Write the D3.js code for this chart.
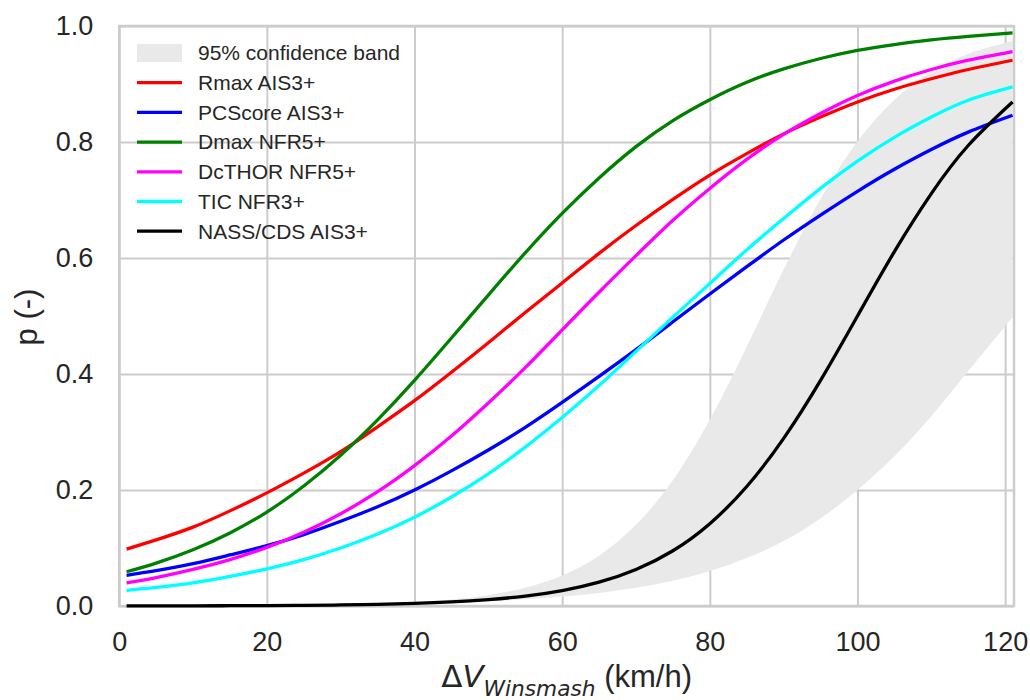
<!DOCTYPE html>
<html>
<head>
<meta charset="utf-8">
<script src="https://cdn.jsdelivr.net/npm/d3@7"></script>
<style>
  body { margin: 0; background: #fff; }
  text { font-family: "Liberation Sans", Arial, sans-serif; fill: #262626; }
</style>
</head>
<body>
<svg width="1030" height="700"></svg>
<script>
var svg = d3.select('svg');

var speeds = [1, 5, 10, 15, 20, 25, 30, 35, 40, 45, 50, 55, 60, 65, 70, 75, 80, 85, 90, 95, 100, 105, 110, 115, 121];

var rmax    = [0.098, 0.114, 0.136, 0.164, 0.195, 0.229, 0.266, 0.309, 0.354, 0.403, 0.454, 0.506, 0.557, 0.608, 0.656, 0.701, 0.743, 0.780, 0.814, 0.843, 0.869, 0.891, 0.909, 0.925, 0.941];
var pcscore = [0.053, 0.061, 0.073, 0.088, 0.104, 0.123, 0.146, 0.171, 0.200, 0.233, 0.269, 0.308, 0.351, 0.396, 0.442, 0.490, 0.538, 0.585, 0.631, 0.674, 0.715, 0.753, 0.787, 0.817, 0.846];
var dmax    = [0.059, 0.074, 0.097, 0.126, 0.162, 0.207, 0.260, 0.321, 0.389, 0.462, 0.536, 0.609, 0.677, 0.738, 0.792, 0.837, 0.873, 0.903, 0.926, 0.944, 0.958, 0.968, 0.976, 0.982, 0.988];
var dcthor  = [0.040, 0.049, 0.063, 0.080, 0.101, 0.127, 0.159, 0.197, 0.242, 0.293, 0.350, 0.411, 0.476, 0.541, 0.604, 0.665, 0.720, 0.770, 0.813, 0.849, 0.880, 0.905, 0.925, 0.941, 0.956];
var tic     = [0.027, 0.032, 0.040, 0.051, 0.064, 0.080, 0.100, 0.124, 0.153, 0.188, 0.228, 0.274, 0.325, 0.380, 0.439, 0.498, 0.556, 0.614, 0.668, 0.720, 0.767, 0.808, 0.843, 0.872, 0.895];
var nass    = [0.0001, 0.0002, 0.0003, 0.0005, 0.0007, 0.0012, 0.0018, 0.0029, 0.0045, 0.0070, 0.0110, 0.0171, 0.0266, 0.0411, 0.0630, 0.0953, 0.142, 0.206, 0.289, 0.389, 0.500, 0.611, 0.711, 0.794, 0.869];

// 95% confidence band of the NASS/CDS curve
var bandLower = [0.0001, 0.0002, 0.0003, 0.0005, 0.0007, 0.0010, 0.0015, 0.0025, 0.0042, 0.0059, 0.0083, 0.0116, 0.0162, 0.0226, 0.0315, 0.0437, 0.0603, 0.0827, 0.112, 0.151, 0.200, 0.258, 0.327, 0.405, 0.498];
var bandUpper = [0.0001, 0.0002, 0.0003, 0.0005, 0.0008, 0.0013, 0.0022, 0.0038, 0.0065, 0.0110, 0.0187, 0.0316, 0.0527, 0.0868, 0.140, 0.217, 0.321, 0.447, 0.580, 0.702, 0.801, 0.873, 0.921, 0.952, 0.974];

var seriesNames  = ['Rmax AIS3+', 'PCScore AIS3+', 'Dmax NFR5+', 'DcTHOR NFR5+', 'TIC NFR3+', 'NASS/CDS AIS3+'];
var seriesValues = [rmax, pcscore, dmax, dcthor, tic, nass];
var seriesColors = ['#ff0000', '#0000ff', '#008000', '#ff00ff', '#00ffff', '#000000'];

var xTicks = [0, 20, 40, 60, 80, 100, 120];
var yTicks = [0, 0.2, 0.4, 0.6, 0.8, 1.0];

var plotLeft = 119.2, plotRight = 1014, plotTop = 26, plotBottom = 606;

var x = d3.scaleLinear().domain([0, 121.2]).range([plotLeft, plotRight]);
var y = d3.scaleLinear().domain([0, 1]).range([plotBottom, plotTop]);

// grid + tick labels
var xAxis = svg.append('g')
    .attr('transform', 'translate(0,' + plotBottom + ')')
    .call(d3.axisBottom(x).tickValues(xTicks).tickSize(-(plotBottom - plotTop)).tickPadding(26));
var yAxis = svg.append('g')
    .attr('transform', 'translate(' + plotLeft + ',0)')
    .call(d3.axisLeft(y).tickValues(yTicks).tickFormat(d3.format('.1f')).tickSize(-(plotRight - plotLeft)).tickPadding(26));

[xAxis, yAxis].forEach(function(g){
    g.select('.domain').remove();
    g.selectAll('line').attr('stroke', '#cccccc').attr('stroke-width', 2);
    g.selectAll('text').style('font-size', '27px').attr('fill', '#262626');
});

// confidence band
var band = speeds.map(function(s, i){
    return {s: s, lo: bandLower[i], hi: bandUpper[i]};
});

svg.append('path')
    .datum(band)
    .attr('fill', '#e9e9e9')
    .attr('d', d3.area()
        .curve(d3.curveCatmullRom.alpha(0.5))
        .x(function(d){ return x(d.s); })
        .y0(function(d){ return y(d.lo); })
        .y1(function(d){ return y(d.hi); }));

// frame
svg.append('rect')
    .attr('x', plotLeft).attr('y', plotTop)
    .attr('width', plotRight - plotLeft).attr('height', plotBottom - plotTop)
    .attr('fill', 'none')
    .attr('stroke', '#cccccc')
    .attr('stroke-width', 2.5);

// curves
var line = d3.line()
    .curve(d3.curveNatural)
    .x(function(d){ return x(d[0]); })
    .y(function(d){ return y(d[1]); });

seriesValues.forEach(function(vals, k){
    var pts = speeds.map(function(s, i){ return [s, vals[i]]; });
    svg.append('path')
        .datum(pts)
        .attr('fill', 'none')
        .attr('stroke', seriesColors[k])
        .attr('stroke-width', 3.3)
        .attr('d', line);
});

// legend
var legend = svg.append('g');
var rowY = function(i){ return 53 + i * 29.7; };

legend.append('rect')
    .attr('x', 137).attr('y', rowY(0) - 9)
    .attr('width', 45).attr('height', 18)
    .attr('fill', '#e9e9e9');
legend.append('text')
    .attr('x', 198).attr('y', rowY(0)).attr('dy', '.35em')
    .style('font-size', '21px')
    .text('95% confidence band');

seriesNames.forEach(function(name, k){
    var yy = rowY(k + 1);
    legend.append('line')
        .attr('x1', 137).attr('x2', 182)
        .attr('y1', yy).attr('y2', yy)
        .attr('stroke', seriesColors[k])
        .attr('stroke-width', 3.3);
    legend.append('text')
        .attr('x', 198).attr('y', yy).attr('dy', '.35em')
        .style('font-size', '21px')
        .text(name);
});

// axis labels
var xl = svg.append('text')
    .attr('x', (plotLeft + plotRight) / 2)
    .attr('y', 687)
    .attr('text-anchor', 'middle')
    .style('font-size', '31px');
xl.append('tspan').style('font-family', 'DejaVu Sans').text('\u0394');
xl.append('tspan').style('font-family', 'DejaVu Sans').style('font-style', 'italic').text('V');
xl.append('tspan').style('font-family', 'DejaVu Sans').style('font-style', 'italic')
    .style('font-size', '21.7px').attr('dy', 9).text('Winsmash');
xl.append('tspan').attr('dy', -9).text(' (km/h)');

svg.append('text')
    .attr('transform', 'translate(37,317) rotate(-90)')
    .attr('text-anchor', 'middle')
    .style('font-size', '31px')
    .text('p (-)');
</script>
</body>
</html>
